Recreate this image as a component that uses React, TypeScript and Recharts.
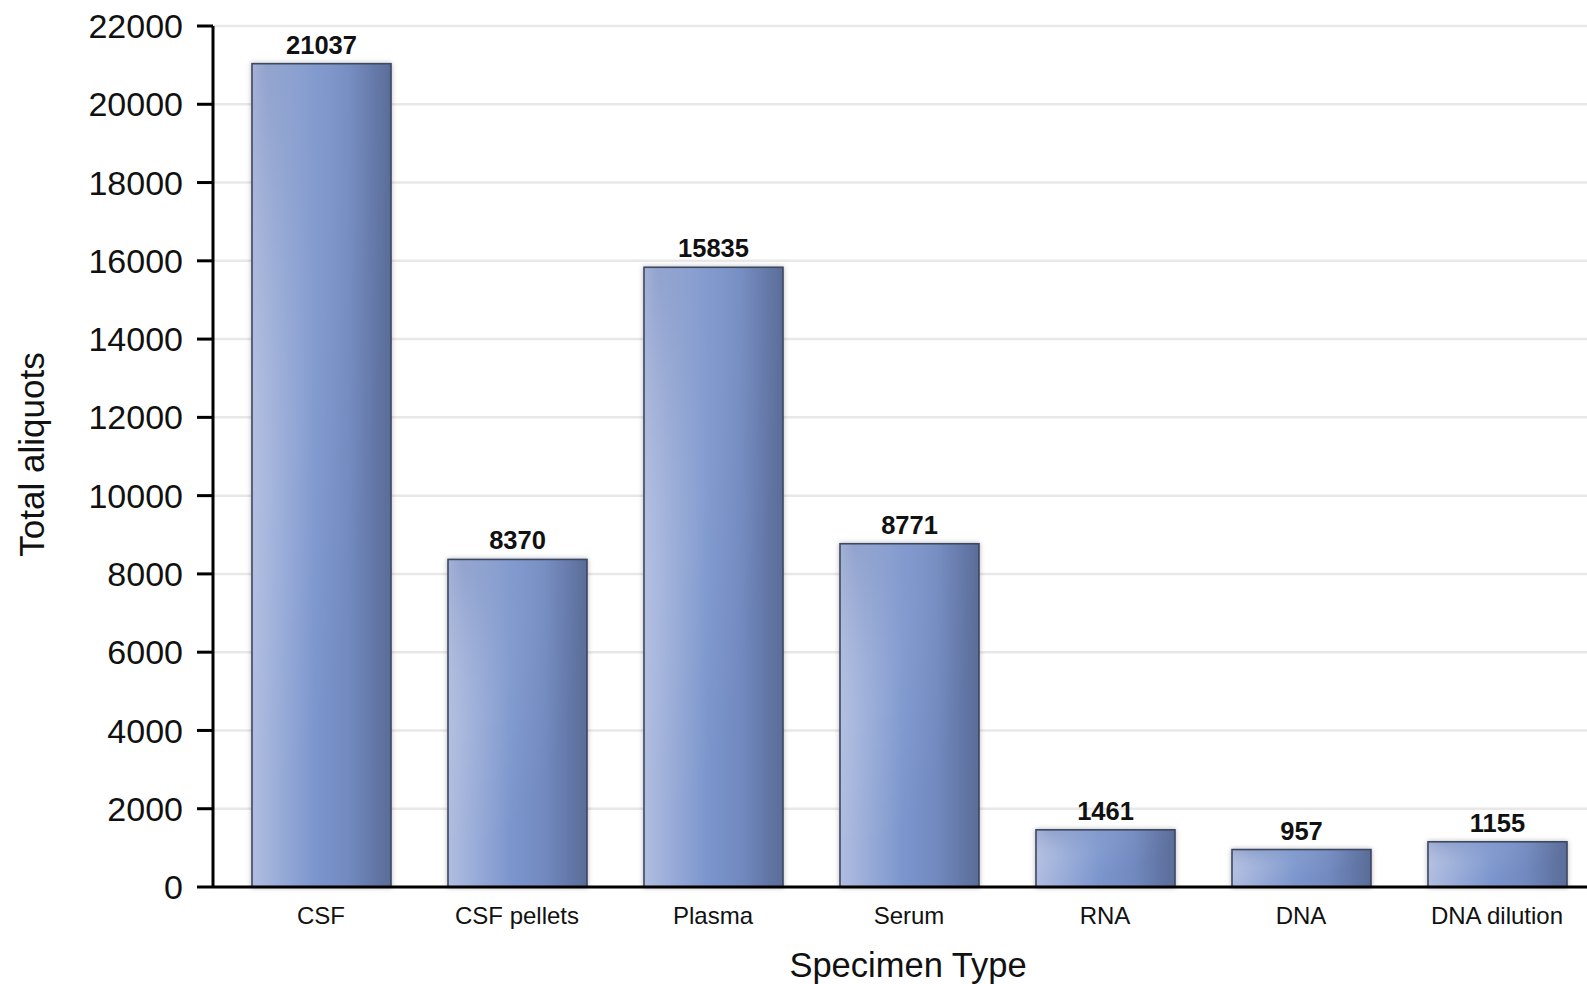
import { BarChart, Bar, XAxis, YAxis, CartesianGrid, LabelList, Label } from 'recharts';

// Specimen types and their aliquot counts
const categories = ['CSF', 'CSF pellets', 'Plasma', 'Serum', 'RNA', 'DNA', 'DNA dilution'];
const totals = [21037, 8370, 15835, 8771, 1461, 957, 1155];
const yTicks = [0, 2000, 4000, 6000, 8000, 10000, 12000, 14000, 16000, 18000, 20000, 22000];

const data = categories.map((name, i) => ({ name, total: totals[i] }));

const FONT = "Arial, 'Liberation Sans', Helvetica, sans-serif";

function GlassBar(props: any) {
  const { x, y, width, height } = props;
  if (!height || height <= 0) return null;
  return (
    <g filter="url(#barShadow)">
      <rect x={x} y={y} width={width} height={height} fill="url(#barBase)" />
      <rect x={x} y={y} width={width} height={height} fill="url(#barSheen)" />
      <rect x={x} y={y} width={width} height={height} fill="none" stroke="#3d4862" strokeWidth={1.6} />
    </g>
  );
}

function YTitle({ viewBox }: any) {
  const cx = 31;
  const cy = viewBox.y + viewBox.height / 2 - 2;
  return (
    <text x={cx} y={cy} transform={`rotate(-90 ${cx} ${cy})`} textAnchor="middle"
      dominantBaseline="central" fontSize={35} fontFamily={FONT} fill="#111">
      Total aliquots
    </text>
  );
}

function XTitle({ viewBox }: any) {
  const cx = 908;
  return (
    <text x={cx} y={viewBox.y + 90} textAnchor="middle" fontSize={34.5} fontFamily={FONT} fill="#111">
      Specimen Type
    </text>
  );
}

export default function App() {
  return (
    <div style={{ position: 'absolute', left: 0, top: 0, width: 1587, height: 984, overflow: 'hidden', background: '#fff' }}>
      <BarChart width={1600} height={984} data={data}
        margin={{ top: 26, right: 5, bottom: 0, left: 0 }}>
        <defs>
          <linearGradient id="barBase" x1="0" y1="0" x2="1" y2="0">
            <stop offset="0%" stopColor="#b0bde0" />
            <stop offset="45%" stopColor="#7c96cd" />
            <stop offset="70%" stopColor="#7189bf" />
            <stop offset="100%" stopColor="#5a6c98" />
          </linearGradient>
          <radialGradient id="barSheen" cx="0.1" cy="0" r="0.9">
            <stop offset="0%" stopColor="#3f5590" stopOpacity={0.18} />
            <stop offset="60%" stopColor="#ffffff" stopOpacity={0.05} />
            <stop offset="100%" stopColor="#ffffff" stopOpacity={0} />
          </radialGradient>
          <filter id="barShadow" x="-10%" y="-10%" width="120%" height="120%">
            <feDropShadow dx="0" dy="0" stdDeviation="2.5" floodColor="#000" floodOpacity={0.28} />
          </filter>
        </defs>
        <CartesianGrid vertical={false} stroke="#e8e8e8" strokeWidth={2.5} />
        <XAxis dataKey="name" height={97} tickLine={false} tickSize={0} tickMargin={20}
          padding={{ left: 10, right: 0 }}
          axisLine={{ stroke: '#000', strokeWidth: 3 }}
          tick={{ fontSize: 24, fill: '#111', fontFamily: FONT }} interval={0}>
          <Label content={<XTitle />} />
        </XAxis>
        <YAxis width={213} domain={[0, 22000]} ticks={yTicks} interval={0}
          tickSize={16} tickMargin={14}
          axisLine={{ stroke: '#000', strokeWidth: 3 }}
          tickLine={{ stroke: '#000', strokeWidth: 3 }}
          tick={{ fontSize: 34, fill: '#111', fontFamily: FONT }}>
          <Label content={<YTitle />} />
        </YAxis>
        <Bar dataKey="total" barSize={139} shape={<GlassBar />} isAnimationActive={false}>
          <LabelList dataKey="total" position="top" offset={10}
            style={{ fontSize: 25.5, fontWeight: 700, fill: '#111', fontFamily: FONT }} />
        </Bar>
      </BarChart>
    </div>
  );
}
